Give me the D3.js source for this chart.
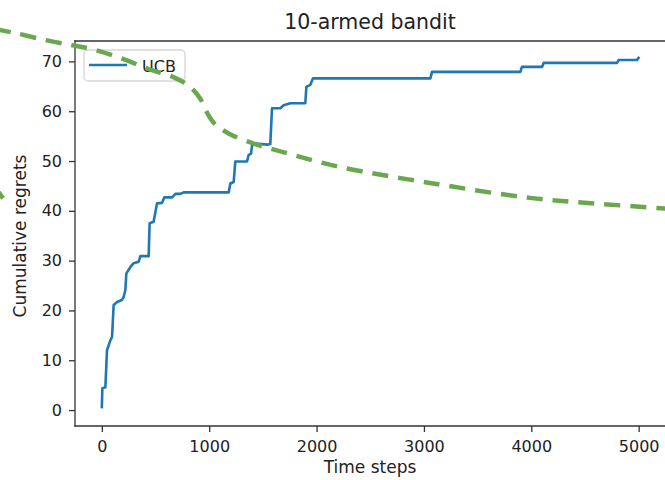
<!DOCTYPE html>
<html>
<head>
<meta charset="utf-8">
<script src="https://cdn.jsdelivr.net/npm/d3@7"></script>
<style>
  body { margin: 0; background: #fff; overflow: hidden; }
  text { font-family: "DejaVu Sans", sans-serif; fill: #222; }
</style>
</head>
<body>
<div id="chart"></div>
<script>
// UCB cumulative regret
var timeSteps = [0, 5, 33, 48, 79, 95, 110, 142, 188, 203, 219, 228, 265, 296, 343, 359, 436, 445, 482, 514, 561, 582, 654, 685, 731, 762,
  1181, 1197, 1228, 1243, 1352, 1367, 1390, 1399, 1430, 1548, 1569, 1585, 1663, 1693, 1756, 1895, 1905, 1942, 1967,
  3060, 3075, 3898, 3913, 4100, 4115, 4799, 4814, 4985, 4999];
var regrets = [0.6, 4.4, 4.6, 12.0, 14.0, 14.7, 21.1, 21.7, 22.1, 22.7, 24.1, 27.4, 28.7, 29.5, 29.8, 30.9, 30.9, 37.5, 37.8, 41.5, 41.6, 42.7, 42.7, 43.4, 43.4, 43.7,
  43.7, 45.5, 45.8, 49.9, 49.9, 51.2, 51.5, 53.2, 53.5, 53.3, 53.4, 60.6, 60.6, 61.2, 61.6, 61.6, 64.9, 65.3, 66.6,
  66.6, 67.9, 67.9, 68.9, 68.9, 69.7, 69.7, 70.3, 70.3, 70.7];

// green dashed overlay curve (in data units, runs past the axes)
var curveX = [-996, -809, -529, -287, -64, 197, 430, 682, 822, 914, 980, 1054, 1194, 1427, 1688, 2219, 3057, 3989, 4640, 5292];
var curveY = [76.5, 75.7, 74.3, 73.3, 72.3, 70.5, 68.5, 66.7, 64.9, 62.6, 59.7, 57.4, 55.4, 53.4, 51.8, 48.8, 45.6, 42.6, 41.4, 40.4];
var stubX = [-977, -920];
var stubY = [44.2, 42.5];

var xTicks = [0, 1000, 2000, 3000, 4000, 5000];
var yTicks = [0, 10, 20, 30, 40, 50, 60, 70];

var svgWidth = 665;
var svgHeight = 480;
// the right spine sits just past the edge of the picture
var margin = { top: 41, right: -3, bottom: 54, left: 75 };
var width = svgWidth - margin.left - margin.right;
var height = svgHeight - margin.top - margin.bottom;
var pxPerStep = 590.5 / 5500;

var svg = d3.select("#chart")
  .append("svg")
  .attr("width", svgWidth)
  .attr("height", svgHeight)
  .style("display", "block");

var chartGroup = svg.append("g")
  .attr("transform", `translate(${margin.left}, ${margin.top})`);

var xScale = d3.scaleLinear().domain([-250, -250 + width / pxPerStep]).range([0, width]);
var yScale = d3.scaleLinear().domain([-3.2, 74.1]).range([height, 0]);

// axes
var xAxis = chartGroup.append("g")
  .attr("transform", `translate(0, ${height})`)
  .call(d3.axisBottom(xScale).tickValues(xTicks).tickFormat(d3.format("d"))
    .tickSize(6).tickPadding(9).tickSizeOuter(0));
var yAxis = chartGroup.append("g")
  .call(d3.axisLeft(yScale).tickValues(yTicks).tickFormat(d3.format("d"))
    .tickSize(6).tickPadding(7).tickSizeOuter(0));

[xAxis, yAxis].forEach(function(ax) {
  ax.select(".domain").remove();
  ax.selectAll("line").attr("stroke", "#333").attr("stroke-width", 1.3);
  ax.selectAll("text").style("font-size", "16px").attr("fill", "#222");
});

// spines: left, top, bottom (right one is off the picture)
var spines = [[0, 0, 0, height], [0, 0, width, 0], [0, height, width, height]];
chartGroup.selectAll(".spine")
  .data(spines)
  .enter()
  .append("line")
  .attr("class", "spine")
  .attr("x1", d => d[0]).attr("y1", d => d[1])
  .attr("x2", d => d[2]).attr("y2", d => d[3])
  .attr("stroke", "#333")
  .attr("stroke-width", 1.3)
  .attr("stroke-linecap", "square");

// UCB line
var ucb = timeSteps.map((t, i) => [t, regrets[i]]);
chartGroup.append("path")
  .datum(ucb)
  .attr("fill", "none")
  .attr("stroke", "#1f77b4")
  .attr("stroke-width", 2.6)
  .attr("stroke-linejoin", "round")
  .attr("stroke-linecap", "square")
  .attr("d", d3.line().x(d => xScale(d[0])).y(d => yScale(d[1])));

// legend
var legend = chartGroup.append("g").attr("transform", "translate(9, 9)");
legend.append("rect")
  .attr("width", 101)
  .attr("height", 31)
  .attr("rx", 4)
  .attr("fill", "#fff")
  .attr("fill-opacity", 0.8)
  .attr("stroke", "#d6d6d6")
  .attr("stroke-width", 1.3);
legend.append("line")
  .attr("x1", 5).attr("x2", 43)
  .attr("y1", 15).attr("y2", 15)
  .attr("stroke", "#1f77b4")
  .attr("stroke-width", 2.6);
legend.append("text")
  .attr("x", 58)
  .attr("y", 21.5)
  .style("font-size", "16px")
  .text("UCB");

// titles
svg.append("text")
  .attr("x", 370)
  .attr("y", 29)
  .attr("text-anchor", "middle")
  .style("font-size", "20.5px")
  .text("10-armed bandit");

svg.append("text")
  .attr("x", 370)
  .attr("y", 473)
  .attr("text-anchor", "middle")
  .style("font-size", "17px")
  .text("Time steps");

svg.append("text")
  .attr("transform", "rotate(-90)")
  .attr("x", -236)
  .attr("y", 26)
  .attr("text-anchor", "middle")
  .style("font-size", "17px")
  .text("Cumulative regrets");

// green dashed overlay
var overlay = d3.line().x(d => xScale(d[0])).y(d => yScale(d[1]));
chartGroup.append("path")
  .datum(curveX.map((x, i) => [x, curveY[i]]))
  .attr("fill", "none")
  .attr("stroke", "#6aa84f")
  .attr("stroke-width", 4.5)
  .attr("stroke-dasharray", "16,10")
  .attr("d", overlay.curve(d3.curveCatmullRom));
chartGroup.append("path")
  .datum(stubX.map((x, i) => [x, stubY[i]]))
  .attr("fill", "none")
  .attr("stroke", "#6aa84f")
  .attr("stroke-width", 4.5)
  .attr("d", d3.line().x(d => xScale(d[0])).y(d => yScale(d[1])));
</script>
</body>
</html>
